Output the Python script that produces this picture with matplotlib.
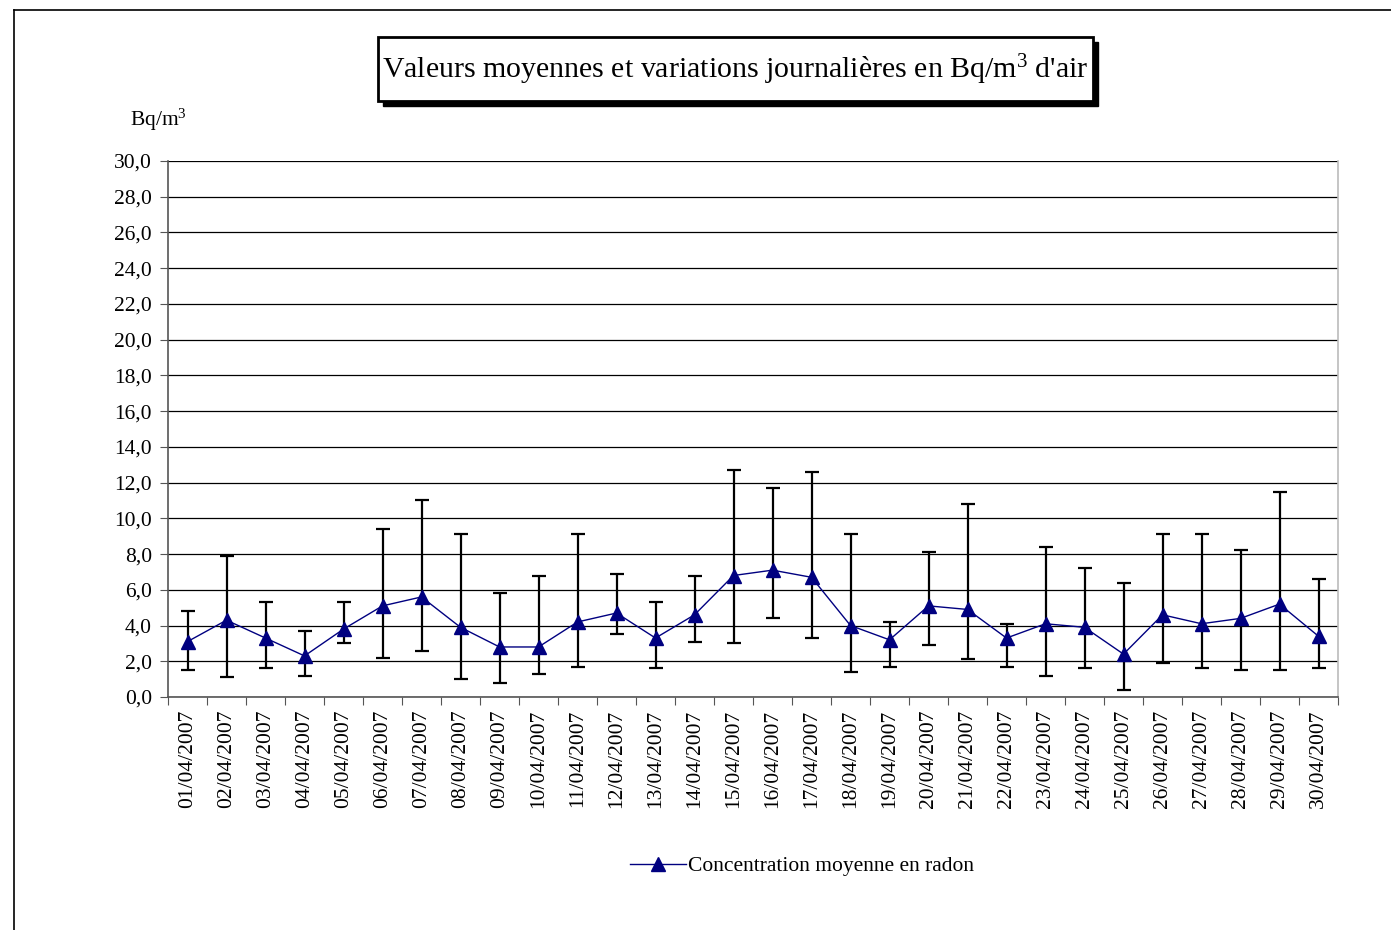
import matplotlib
matplotlib.use("Agg")
import matplotlib.pyplot as plt
from matplotlib.patches import Rectangle
from matplotlib.lines import Line2D
from matplotlib.ticker import FuncFormatter, MultipleLocator
import numpy as np

plt.rcParams["font.family"] = ["Liberation Serif", "DejaVu Serif"]
plt.rcParams["mathtext.fontset"] = "custom"
plt.rcParams["mathtext.rm"] = "Liberation Serif"
plt.rcParams["mathtext.it"] = "Liberation Serif:italic"

days = [f"{d:02d}/04/2007" for d in range(1, 31)]
mean_vals = [3.1, 4.3, 3.3, 2.3, 3.8, 5.1, 5.6, 3.9, 2.8, 2.8,
             4.2, 4.7, 3.3, 4.6, 6.8, 7.1, 6.7, 4.0, 3.2, 5.1,
             4.9, 3.3, 4.1, 3.9, 2.4, 4.6, 4.1, 4.4, 5.2, 3.4]
max_vals = [4.8, 7.9, 5.3, 3.7, 5.3, 9.4, 11.0, 9.1, 5.8, 6.8,
            9.1, 6.9, 5.3, 6.8, 12.7, 11.7, 12.6, 9.1, 4.2, 8.1,
            10.8, 4.1, 8.4, 7.2, 6.4, 9.1, 9.1, 8.2, 11.5, 6.6]
min_vals = [1.5, 1.1, 1.6, 1.2, 3.0, 2.2, 2.6, 1.0, 0.8, 1.3,
            1.7, 3.5, 1.6, 3.1, 3.0, 4.4, 3.3, 1.4, 1.7, 2.9,
            2.1, 1.7, 1.2, 1.6, 0.4, 1.9, 1.6, 1.5, 1.5, 1.6]

title = r"Valeurs moyennes et variations journalières en Bq/m$^{\mathrm{3}}$ d'air"
unit_label = r"Bq/m$^{\mathrm{3}}$"
series_label = "Concentration moyenne en radon"

W, H = 1391, 930
FS = 15.5
fig = plt.figure(figsize=(W / 100, H / 100), dpi=100)
ax = fig.add_axes([168 / W, 1 - 697 / H, (1338 - 168) / W, (697 - 161) / H])

x = np.arange(len(days))
mean = np.array(mean_vals)
yerr = [mean - np.array(min_vals), np.array(max_vals) - mean]

ax.errorbar(x, mean, yerr=yerr, fmt="none", ecolor="black", elinewidth=1.6,
            capsize=5, capthick=1.6, zorder=3)
ax.plot(x, mean, color="#000080", linewidth=1.0, marker="^", markersize=10,
        markerfacecolor="#000080", markeredgecolor="#000080", zorder=4,
        label=series_label)

ax.set_xlim(-0.5, len(days) - 0.5)
ax.set_ylim(0, 30)
ax.yaxis.set_major_locator(MultipleLocator(2))
ax.yaxis.set_major_formatter(FuncFormatter(lambda v, _: f"{v:.1f}".replace(".", ",")))
ax.grid(axis="y", color="black", linewidth=0.9)
ax.set_axisbelow(True)

ax.set_xticks(np.arange(-0.5, len(days), 1.0))
ax.set_xticklabels([])
ax.set_xticks(x, minor=True)
ax.set_xticklabels(days, minor=True, rotation=90, fontsize=FS)
ax.tick_params(axis="x", which="minor", length=0, pad=9)
ax.tick_params(axis="x", which="major", length=6, color="#555555", direction="out")
ax.tick_params(axis="y", length=5.5, color="#555555", labelsize=FS, pad=6)

for side in ["left", "bottom"]:
    ax.spines[side].set_color("#555555")
    ax.spines[side].set_linewidth(1.2)
ax.spines["top"].set_visible(False)
ax.spines["right"].set_color("#bbbbbb")
ax.spines["right"].set_linewidth(1.2)

fig.text(130 / W, 1 - 120 / H, unit_label, fontsize=FS, ha="left", va="center")

# title box with shadow
bx0, bx1, by0, by1 = 378, 1093, 37, 101
off = 5
fig.patches.append(Rectangle(((bx0 + off) / W, 1 - (by1 + off) / H), (bx1 - bx0) / W,
                             (by1 - by0) / H, transform=fig.transFigure,
                             facecolor="black", edgecolor="black", zorder=1))
fig.patches.append(Rectangle((bx0 / W, 1 - by1 / H), (bx1 - bx0) / W, (by1 - by0) / H,
                             transform=fig.transFigure, facecolor="white",
                             edgecolor="black", linewidth=2, zorder=2))
fig.text((bx0 + bx1) / 2 / W, 1 - 70 / H, title, fontsize=21.5, ha="center",
         va="center", zorder=3)

# outer chart frame
fig.add_artist(Line2D([14 / W, 14 / W], [0, 1 - 10 / H], color="black", linewidth=1.2,
                      transform=fig.transFigure))
fig.add_artist(Line2D([14 / W, 1], [1 - 10 / H, 1 - 10 / H], color="black",
                      linewidth=1.2, transform=fig.transFigure))

fig.legend(loc="center", bbox_to_anchor=(802 / W, 1 - 866 / H), frameon=False,
           fontsize=FS, handlelength=2.6, handletextpad=0.1)

fig.savefig("out.png", dpi=100)
